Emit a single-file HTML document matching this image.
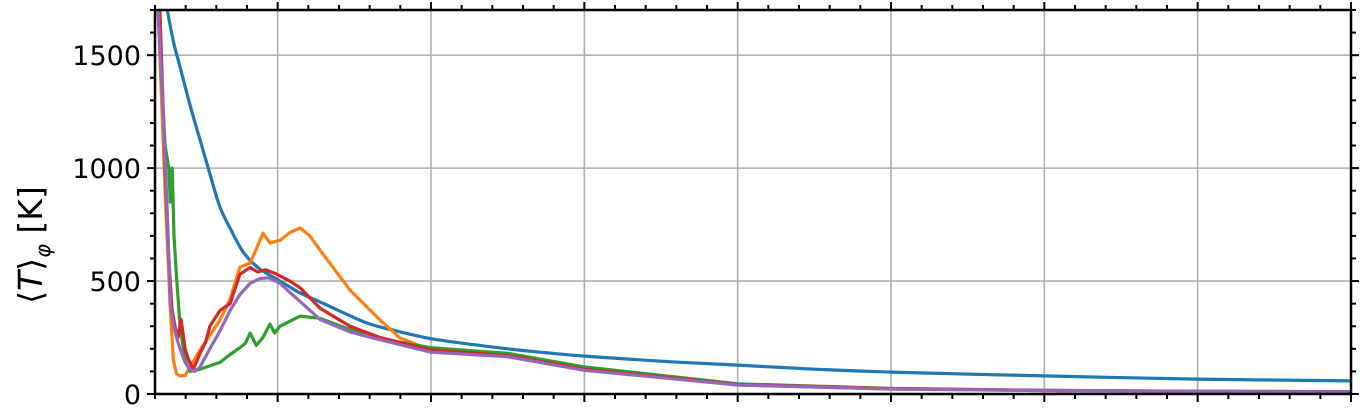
<!DOCTYPE html>
<html><head><meta charset="utf-8"><style>
body{margin:0;background:#fff;}
svg{display:block;font-family:"DejaVu Sans","Liberation Sans",sans-serif;}
</style></head><body>
<svg id="chart" width="1370" height="413"></svg>
<script>
const yTicks=[0,500,1000,1500];
const xMajor=[4,9,14,19,24,29,34,39];
const blueX=[0.4,0.6,0.82,1.14,1.47,1.8,2.12,2.5,2.9,3.4,4.08,4.7,5.5,6.3,7,8,9,10.2,11.5,12.8,14,16.5,19,21.5,24,29,34,39];
const blueY=[1700,1560,1447,1280,1124,970,827,720,624,555,500,450,400,350,310,275,245,222,200,182,168,145,128,110,97,80,66,58];
const orangeX=[0.1,0.33,0.49,0.6,0.7,0.82,0.98,1.14,1.47,1.79,2.12,2.45,2.77,3.1,3.3,3.52,3.75,4.08,4.4,4.73,5.05,5.38,6.36,7.34,7.99,9,11.5,14,19,24,29,34,39];
const orangeY=[1700,900,400,150,90,80,82,120,195,260,327,420,562,580,640,712,668,681,715,735,700,637,460,327,248,195,170,110,40,22,15,12,10];
const greenX=[0.1,0.33,0.45,0.5,0.56,0.62,0.7,0.82,0.98,1.14,1.47,1.79,2.12,2.45,2.77,2.95,3.1,3.3,3.52,3.75,3.9,4.08,4.73,5.38,6.36,7.34,9,11.5,14,19,24,29,34,39];
const greenY=[1700,1100,1000,850,1000,700,520,300,150,100,110,125,140,175,205,225,270,215,250,310,270,300,345,335,285,245,205,180,120,45,25,16,12,10];
const redX=[0.16,0.33,0.45,0.55,0.65,0.75,0.85,0.98,1.1,1.25,1.47,1.65,1.79,2.12,2.45,2.77,3.1,3.35,3.6,3.9,4.4,4.73,5.38,6.36,7.34,9,11.5,14,19,24,29,34,39];
const redY=[1700,1000,600,380,300,250,330,200,150,110,180,230,300,370,400,530,560,540,550,535,500,470,380,300,250,195,170,110,42,24,16,12,10];
const purpleX=[0.1,0.25,0.4,0.5,0.6,0.7,0.82,0.98,1.14,1.3,1.47,1.79,2.12,2.45,2.77,3.1,3.4,3.7,4.08,4.4,4.73,5.38,6.36,7.34,9,11.5,14,19,24,29,34,39];
const purpleY=[1700,1300,800,400,310,250,200,140,110,100,120,200,280,370,440,490,510,515,490,450,410,330,275,240,185,165,105,40,22,15,11,9];
const series=[["blue","#1f77b4",blueX,blueY,true],["orange","#ff7f0e",orangeX,orangeY,false],["green","#2ca02c",greenX,greenY,false],["red","#d62728",redX,redY,false],["purple","#9467bd",purpleX,purpleY,false]];
const L=155,R=1351,T=10,B=394,XMAX=39,YMAX=1700;
const sx=v=>L+v*(R-L)/XMAX, sy=v=>B-v*(B-T)/YMAX;
const svg=document.getElementById('chart');const NS='http://www.w3.org/2000/svg';
function mk(t,a){const e=document.createElementNS(NS,t);for(const k in a)e.setAttribute(k,a[k]);svg.appendChild(e);return e;}
const defs=mk('clipPath',{id:'clip'});const cr=document.createElementNS(NS,'rect');
cr.setAttribute('x',L);cr.setAttribute('y',T);cr.setAttribute('width',R-L);cr.setAttribute('height',B-T);defs.appendChild(cr);
xMajor.forEach(v=>{const g=mk('line',{x1:sx(v),x2:sx(v),y1:T,y2:B,stroke:'#b0b0b0','stroke-width':1.6});
});
yTicks.forEach(v=>{const g=mk('line',{x1:L,x2:R,y1:sy(v),y2:sy(v),stroke:'#b0b0b0','stroke-width':1.6});
});
function smoothPath(P){let d='M'+P[0][0].toFixed(1)+','+P[0][1].toFixed(1);
for(let i=0;i<P.length-1;i++){const p0=P[i-1]||P[i],p1=P[i],p2=P[i+1],p3=P[i+2]||p2;
const c1=[p1[0]+(p2[0]-p0[0])/6,p1[1]+(p2[1]-p0[1])/6],c2=[p2[0]-(p3[0]-p1[0])/6,p2[1]-(p3[1]-p1[1])/6];
d+='C'+c1.map(v=>v.toFixed(1))+' '+c2.map(v=>v.toFixed(1))+' '+p2.map(v=>v.toFixed(1));}return d;}
series.forEach(s=>{const P=s[2].map((x,i)=>[sx(x),sy(s[3][i])]);
const d=s[4]?smoothPath(P):P.map((p,i)=>(i?'L':'M')+p[0].toFixed(1)+','+p[1].toFixed(1)).join('');
const p=mk('path',{d:d,fill:'none',stroke:s[1],'stroke-width':3.2,'stroke-linejoin':'round','clip-path':'url(#clip)'});
});
for(let i=0;i<=XMAX;i++){const maj=xMajor.includes(i);const len=maj?8:5;
const t1=mk('line',{x1:sx(i),x2:sx(i),y1:B,y2:B+len,stroke:'#000','stroke-width':2});
const t2=mk('line',{x1:sx(i),x2:sx(i),y1:T,y2:T-len,stroke:'#000','stroke-width':2});}
for(let v=0;v<=YMAX;v+=100){const maj=v%500===0;const len=maj?8:5;
const t1=mk('line',{x1:L,x2:L-len,y1:sy(v),y2:sy(v),stroke:'#000','stroke-width':2});
const t2=mk('line',{x1:R,x2:R+len,y1:sy(v),y2:sy(v),stroke:'#000','stroke-width':2});}
yTicks.forEach(v=>{const t=mk('text',{x:L-14,y:sy(v)+10,'text-anchor':'end','font-size':27});t.textContent=v;
});
const fr=mk('rect',{x:L,y:T,width:R-L,height:B-T,fill:'none',stroke:'#000','stroke-width':2.5});

const yl=mk('text',{x:0,y:0,'font-size':33,'text-anchor':'middle',transform:'translate(42,245) rotate(-90)'});
yl.innerHTML='⟨<tspan font-style="italic">T</tspan>⟩<tspan font-size="21" dy="8" font-style="italic">φ</tspan><tspan dy="-8"> [K]</tspan>';

</script>
</body></html>
